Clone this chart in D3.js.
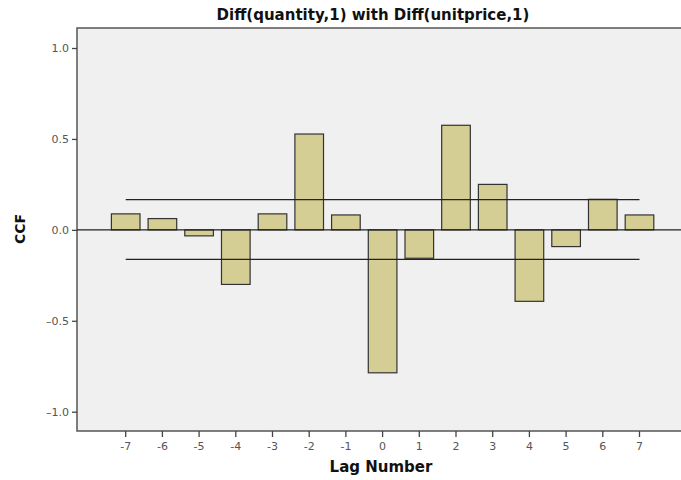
<!DOCTYPE html>
<html>
<head>
<meta charset="utf-8">
<script src="https://cdn.jsdelivr.net/npm/d3@7"></script>
<style>
  body { margin: 0; background: #fff; }
  text { font-family: "DejaVu Sans", sans-serif; }
</style>
</head>
<body>
<div id="chart"></div>
<script>
// chart data
var lags = [-7, -6, -5, -4, -3, -2, -1, 0, 1, 2, 3, 4, 5, 6, 7];
var ccf = [0.088, 0.062, -0.033, -0.30, 0.088, 0.527, 0.082, -0.786, -0.156, 0.575, 0.250, -0.393, -0.092, 0.168, 0.082];
var confLimit = [0.166, -0.162];
var yTicks = [-1.0, -0.5, 0.0, 0.5, 1.0];

var svgWidth = 681;
var svgHeight = 480;

var chartMargin = { top: 28, right: -10, bottom: 49, left: 77 };

var chartWidth = svgWidth - chartMargin.left - chartMargin.right;
var chartHeight = svgHeight - chartMargin.top - chartMargin.bottom;

var svg = d3.select("#chart")
    .append("svg")
    .attr("width", svgWidth)
    .attr("height", svgHeight);

var chartGroup = svg.append("g")
    .attr("transform", `translate(${chartMargin.left}, ${chartMargin.top})`);

// scales - each lag gets a 36.7px step, first centre at 48.7px into the plot
var step = 36.7;
var xStart = 48.7 - step / 2;
var xScale = d3.scaleBand()
    .domain(lags)
    .range([xStart, xStart + step * lags.length])
    .paddingInner(0.22)
    .paddingOuter(0.11);

var yScale = d3.scaleLinear()
    .domain([-1.106, 1.11])
    .range([chartHeight, 0]);

// plot background
chartGroup.append("rect")
    .attr("width", chartWidth)
    .attr("height", chartHeight)
    .attr("fill", "#f0f0f0")
    .attr("stroke", "#555")
    .attr("stroke-width", 1.5);

// bars
chartGroup.selectAll(".bar")
    .data(lags)
    .enter()
    .append("rect")
    .attr("class", "bar")
    .attr("x", (d, i) => xScale(d))
    .attr("width", xScale.bandwidth())
    .attr("y", (d, i) => yScale(Math.max(0, ccf[i])))
    .attr("height", (d, i) => Math.abs(yScale(ccf[i]) - yScale(0)))
    .attr("fill", "#d4ce95")
    .attr("stroke", "#333")
    .attr("stroke-width", 1.2);

// zero line
chartGroup.append("line")
    .attr("x1", 0)
    .attr("x2", chartWidth)
    .attr("y1", yScale(0))
    .attr("y2", yScale(0))
    .attr("stroke", "#222")
    .attr("stroke-width", 1.3);

// confidence limits
var x0 = xScale(lags[0]) + xScale.bandwidth() / 2;
var x1 = xScale(lags[lags.length - 1]) + xScale.bandwidth() / 2;
confLimit.forEach(function (c) {
    chartGroup.append("line")
        .attr("x1", x0)
        .attr("x2", x1)
        .attr("y1", yScale(c))
        .attr("y2", yScale(c))
        .attr("stroke", "#222")
        .attr("stroke-width", 1.3);
});

// axes
var yAxis = d3.axisLeft(yScale)
    .tickValues(yTicks)
    .tickFormat(d3.format(".1f"))
    .tickSize(5)
    .tickSizeOuter(0);

var xAxis = d3.axisBottom(xScale)
    .tickSize(6)
    .tickSizeOuter(0);

var yG = chartGroup.append("g").call(yAxis);
var xG = chartGroup.append("g")
    .attr("transform", `translate(0, ${chartHeight})`)
    .call(xAxis);

[yG, xG].forEach(function (g) {
    g.select(".domain").remove();
    g.selectAll("line").attr("stroke", "#444").attr("stroke-width", 1.3);
    g.selectAll("text")
        .attr("fill", "#555")
        .attr("font-size", "11px")
        .text(function () { return this.textContent.replace("\u2212", "\u2013"); });
});
xG.selectAll("text").attr("dy", "0.95em");

// title and axis labels
svg.append("text")
    .attr("x", 373)
    .attr("y", 20)
    .attr("text-anchor", "middle")
    .attr("font-size", "15px")
    .attr("font-weight", "bold")
    .attr("fill", "#111")
    .text("Diff(quantity,1) with Diff(unitprice,1)");

svg.append("text")
    .attr("x", 381)
    .attr("y", 472)
    .attr("text-anchor", "middle")
    .attr("font-size", "15px")
    .attr("font-weight", "bold")
    .attr("fill", "#111")
    .text("Lag Number");

svg.append("text")
    .attr("transform", "translate(25, 229) rotate(-90)")
    .attr("text-anchor", "middle")
    .attr("font-size", "14px")
    .attr("font-weight", "bold")
    .attr("fill", "#111")
    .text("CCF");
</script>
</body>
</html>
